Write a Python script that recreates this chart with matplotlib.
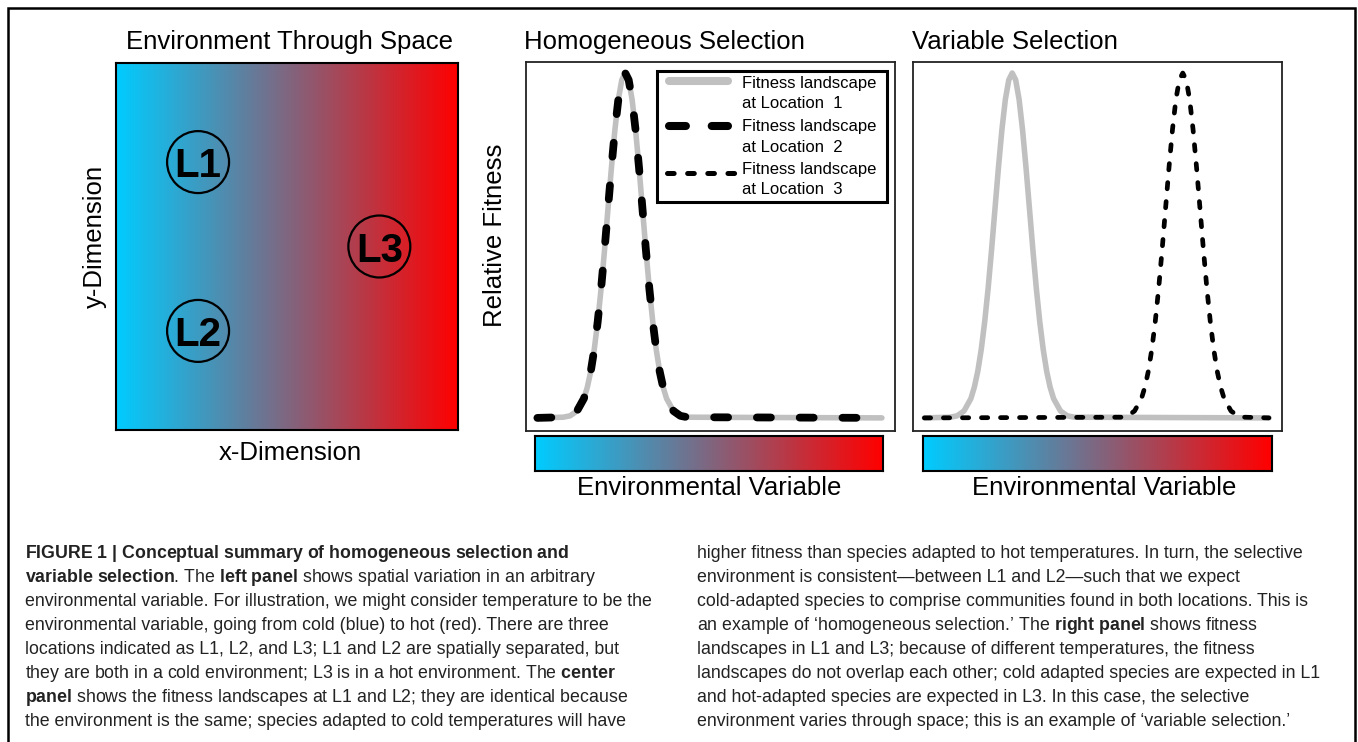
import matplotlib
matplotlib.use('Agg')
import matplotlib.pyplot as plt
import numpy as np
from matplotlib.colors import LinearSegmentedColormap
from matplotlib.lines import Line2D
from matplotlib.patches import Rectangle

# figure size in pixels (dpi 100)
W, H = 1358, 742

plt.rcParams['font.family'] = ['Liberation Sans', 'DejaVu Sans']
plt.rcParams['mathtext.fontset'] = 'custom'
plt.rcParams['mathtext.rm'] = 'Liberation Sans'
plt.rcParams['mathtext.bf'] = 'Liberation Sans:bold'

# ---- data ----
location_names = ['L1', 'L2', 'L3']
location_x = [0.24, 0.24, 0.77]      # position along x-dimension (0-1)
location_y = [0.73, 0.27, 0.50]      # position along y-dimension (0-1)

env_min, env_max = 0, 100            # environmental variable range
optimum_L1 = 25.5
optimum_L2 = 25.5
optimum_L3 = 75.0

# fitness landscape shape around each optimum
env_offset = [-18, -16, -14, -12, -11, -10, -9, -8, -7, -6, -5, -4, -3, -2, -1,
              0, 1, 2, 3, 4, 5, 6, 7, 8, 9, 10, 11, 12, 14, 16, 18]
fitness_profile = [0.002, 0.006, 0.020, 0.056, 0.089, 0.135, 0.198, 0.278, 0.375,
                   0.487, 0.607, 0.726, 0.835, 0.923, 0.980,
                   1.000, 0.980, 0.923, 0.835, 0.726, 0.607, 0.487, 0.375, 0.278,
                   0.198, 0.135, 0.089, 0.056, 0.020, 0.006, 0.002]

legend_labels = ['Fitness landscape\nat Location  1',
                 'Fitness landscape\nat Location  2',
                 'Fitness landscape\nat Location  3']

caption_left = [
    "**FIGURE 1 | Conceptual summary of homogeneous selection and**",
    "**variable selection.** The **left panel** shows spatial variation in an arbitrary",
    "environmental variable. For illustration, we might consider temperature to be the",
    "environmental variable, going from cold (blue) to hot (red). There are three",
    "locations indicated as L1, L2, and L3; L1 and L2 are spatially separated, but",
    "they are both in a cold environment; L3 is in a hot environment. The **center**",
    "**panel** shows the fitness landscapes at L1 and L2; they are identical because",
    "the environment is the same; species adapted to cold temperatures will have",
]
caption_right = [
    "higher fitness than species adapted to hot temperatures. In turn, the selective",
    "environment is consistent\u2014between L1 and L2\u2014such that we expect",
    "cold-adapted species to comprise communities found in both locations. This is",
    "an example of \u2018homogeneous selection.\u2019 The **right panel** shows fitness",
    "landscapes in L1 and L3; because of different temperatures, the fitness",
    "landscapes do not overlap each other; cold adapted species are expected in L1",
    "and hot-adapted species are expected in L3. In this case, the selective",
    "environment varies through space; this is an example of \u2018variable selection.\u2019",
]

cold_hot = LinearSegmentedColormap.from_list('cold_hot', ['#00CCFF', '#FF0000'])
gray = '#C0C0C0'


def fig_box(x0, y0, x1, y1):
    # pixel box (top-left origin) -> figure fraction rect
    return [x0 / W, 1 - y1 / H, (x1 - x0) / W, (y1 - y0) / H]


def fx(x):
    return x / W


def fy(y):
    return 1 - y / H


def curve(opt):
    xs = [env_min] + [opt + d for d in env_offset] + [env_max]
    ys = [0] + fitness_profile + [0]
    return xs, ys


def rich(line):
    # **bold** markup -> mathtext bold words
    out = []
    for i, part in enumerate(line.split('**')):
        if i % 2 == 0:
            out.append(part)
        else:
            words = []
            for w in part.split(' '):
                tail = ''
                if w.endswith('.'):
                    w, tail = w[:-1], '.'
                words.append(r'$\mathbf{%s}$%s' % (w, tail) if w else tail)
            out.append(' '.join(words))
    return ''.join(out)


fig = plt.figure(figsize=(W / 100, H / 100), dpi=100)
fig.patch.set_facecolor('white')

# outer frame (open at the bottom)
fig.add_artist(Rectangle((fx(8), fy(800)), (1355 - 8) / W, (800 - 8) / H,
                         transform=fig.transFigure, fill=False, lw=1.8, ec='black'))

gradient = np.linspace(0, 1, 256).reshape(1, -1)

# ---- left panel: environment through space ----
ax0 = fig.add_axes(fig_box(116, 63, 458, 430))
ax0.imshow(gradient, cmap=cold_hot, aspect='auto', extent=[0, 1, 0, 1])
ax0.scatter(location_x, location_y, s=1990, facecolors='none', edgecolors='black', lw=1.6, zorder=3)
for name, x, y in zip(location_names, location_x, location_y):
    ax0.text(x, y, name, ha='center', va='center_baseline', fontsize=29, fontweight='bold', zorder=4)
ax0.set_xlim(0, 1)
ax0.set_ylim(0, 1)
ax0.set_xticks([])
ax0.set_yticks([])
for sp in ax0.spines.values():
    sp.set_linewidth(1.5)

fig.text(fx(290), fy(49), 'Environment Through Space', ha='center', va='baseline', fontsize=18.5)
fig.text(fx(290), fy(460), 'x-Dimension', ha='center', va='baseline', fontsize=18.5)
fig.text(fx(95), fy(236), 'y-Dimension', ha='center', va='center', rotation=90, fontsize=18.5)

# ---- middle & right panels ----
ax1 = fig.add_axes(fig_box(526, 62, 895, 431))
ax2 = fig.add_axes(fig_box(913, 62, 1282, 431))
cb1 = fig.add_axes(fig_box(535, 436, 883, 471))
cb2 = fig.add_axes(fig_box(923, 436, 1272, 471))

x1, y1 = curve(optimum_L1)
x2, y2 = curve(optimum_L2)
x3, y3 = curve(optimum_L3)

ax1.plot(x1, y1, color=gray, lw=4, solid_capstyle='round', solid_joinstyle='round', zorder=2)
ax1.plot(x2, y2, color='black', lw=5.6, dashes=(1.8, 3.7), dash_capstyle='round', zorder=3)

ax2.plot(x1, y1, color=gray, lw=4, solid_capstyle='round', solid_joinstyle='round', zorder=2)
ax2.plot(x3, y3, color='black', lw=3.4, dashes=(1.33, 2.7), dash_capstyle='round', zorder=3)

for ax in (ax1, ax2):
    ax.set_xlim(-3.3, 103.8)
    ax.set_ylim(-0.038, 1.032)
    ax.set_xticks([])
    ax.set_yticks([])
    for sp in ax.spines.values():
        sp.set_linewidth(1.3)
        sp.set_color('#222222')

for cb in (cb1, cb2):
    cb.imshow(gradient, cmap=cold_hot, aspect='auto', extent=[0, 1, 0, 1])
    cb.set_xticks([])
    cb.set_yticks([])
    for sp in cb.spines.values():
        sp.set_linewidth(1.5)

fig.text(fx(524), fy(49), 'Homogeneous Selection', ha='left', va='baseline', fontsize=18.5)
fig.text(fx(912), fy(49), 'Variable Selection', ha='left', va='baseline', fontsize=18.5)
fig.text(fx(495), fy(235), 'Relative Fitness', ha='center', va='center', rotation=90, fontsize=18.5)
fig.text(fx(709), fy(495), 'Environmental Variable', ha='center', va='baseline', fontsize=18.5)
fig.text(fx(1104), fy(495), 'Environmental Variable', ha='center', va='baseline', fontsize=18.5)


# ---- legend drawn in the middle panel ----
def mid(xp, yp):
    return (xp - 526) / 369, (431 - yp) / 369


lx0, ly0 = mid(657, 202)
ax1.add_patch(Rectangle((lx0, ly0), 230 / 369, 131 / 369, transform=ax1.transAxes,
                        fill=False, lw=2.2, ec='black', zorder=5, clip_on=False))
handle_styles = [
    dict(color=gray, lw=5.8, solid_capstyle='round'),
    dict(color='black', lw=5.8, dashes=(2.1, 3.2), dash_capstyle='round'),
    dict(color='black', lw=3.6, dashes=(1.33, 2.7), dash_capstyle='round'),
]
handle_rows = [81, 126, 173]
handle_ends = [(669, 728), (669, 728), (667, 736)]
text_rows = [(88, 108), (131.5, 151.5), (174, 194)]
for style, hy, (ha_, hb_), label, rows in zip(handle_styles, handle_rows, handle_ends,
                                              legend_labels, text_rows):
    xa, ya = mid(ha_, hy)
    xb, _ = mid(hb_, hy)
    ax1.add_line(Line2D([xa, xb], [ya, ya], transform=ax1.transAxes, zorder=6, **style))
    for line, ty in zip(label.split('\n'), rows):
        tx, tyy = mid(742, ty)
        ax1.text(tx, tyy, line, transform=ax1.transAxes, ha='left', va='baseline', fontsize=12)

# ---- caption ----
for i, line in enumerate(caption_left):
    fig.text(fx(25), fy(557.7 + 24 * i), rich(line), ha='left', va='baseline',
             fontsize=12.8, color='#222222')
for i, line in enumerate(caption_right):
    fig.text(fx(697), fy(557.7 + 24 * i), rich(line), ha='left', va='baseline',
             fontsize=12.8, color='#222222')

fig.savefig('out.png', dpi=100)
plt.close(fig)
